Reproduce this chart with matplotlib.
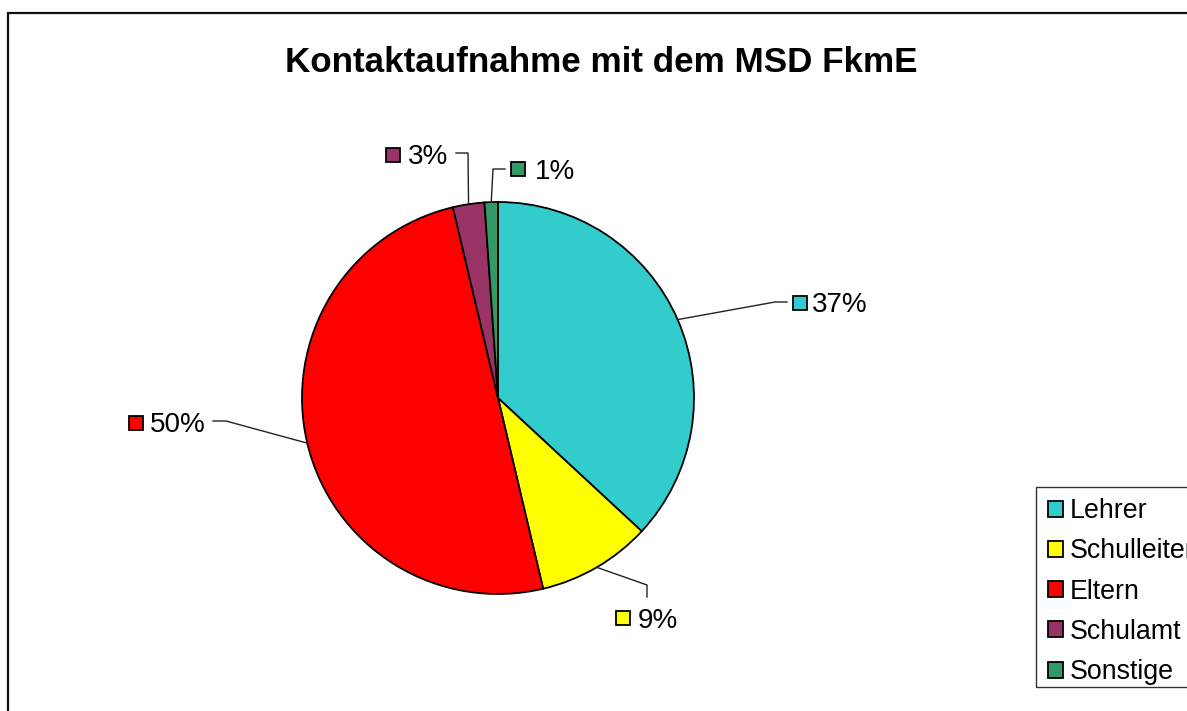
import numpy as np
import matplotlib
matplotlib.use("Agg")
import matplotlib.pyplot as plt
from matplotlib.patches import Rectangle

# ---- data ----
categories = ["Lehrer", "Schulleiter", "Eltern", "Schulamt", "Sonstige"]
values = [36.9, 9.4, 50.0, 2.6, 1.1]
pct_labels = ["37%", "9%", "50%", "3%", "1%"]
colors = ["#33CCCC", "#FFFF00", "#FF0000", "#993366", "#339966"]
title = "Kontaktaufnahme mit dem MSD FkmE"

W, H = 1187, 711
plt.rcParams['font.family'] = ['Liberation Sans', 'DejaVu Sans']

fig = plt.figure(figsize=(W / 100, H / 100), dpi=100)
ax = fig.add_axes([0, 0, 1, 1])

def Y(y):
    return H - y

cx, cy, R = 498, 398, 196
wedges, _ = ax.pie(values, colors=colors, startangle=90, counterclock=False,
                   center=(cx, Y(cy)), radius=R, frame=True,
                   wedgeprops=dict(edgecolor="black", linewidth=1.3))
ax.set_xlim(0, W)
ax.set_ylim(0, H)
ax.set_aspect('auto')
ax.axis('off')

# outer chart border (extends past canvas right/bottom)
ax.add_patch(Rectangle((8, -20), 1400, Y(13) + 20, fill=False,
                       edgecolor="#111111", linewidth=1.6, zorder=0))

ax.text(601, Y(72), title, ha='center', va='baseline', fontsize=25.2,
        fontweight='bold', color='black')

# label layout (pixel coords, y measured from top)
elbows = [(775, 302), (647, 585), (226, 421), (468, 153), (493, 169)]
ends = [(787, 302), (647, 597), (213, 421), (456, 153), (505, 169)]
squares = [(799.5, 302.5), (622.5, 617.5), (135.5, 422.5), (393, 154.5), (518, 169)]
text_x = [812, 638, 150, 408, 535]

for w, el, en, sq, tx, lab, col in zip(wedges, elbows, ends, squares, text_x,
                                        pct_labels, colors):
    th = np.deg2rad((w.theta1 + w.theta2) / 2)
    sx = cx + R * np.cos(th)
    sy = Y(cy) + R * np.sin(th)
    ax.plot([sx, el[0], en[0]], [sy, Y(el[1]), Y(en[1])], color='#222222',
            linewidth=1.0, zorder=3)
    ax.plot([sq[0]], [Y(sq[1])], marker='s', markersize=10, markerfacecolor=col,
            markeredgecolor='black', markeredgewidth=1.3, zorder=4)
    ax.text(tx, Y(sq[1]), lab, ha='left', va='center_baseline', fontsize=20,
            color='black')

# legend frame (extends past right edge like the reference)
ax.add_patch(Rectangle((1036, Y(687)), 300, 200, fill=False,
                       edgecolor='#333333', linewidth=1.0, zorder=2))
leg = ax.legend(wedges, categories, loc='upper left',
                bbox_to_anchor=(1037 / W, 1 - 487 / H), bbox_transform=fig.transFigure,
                fontsize=19.3, frameon=False,
                handlelength=0.55, handleheight=0.55, handletextpad=0.26,
                labelspacing=0.53, borderpad=0.42, borderaxespad=0)

fig.savefig("out.png", dpi=100)
